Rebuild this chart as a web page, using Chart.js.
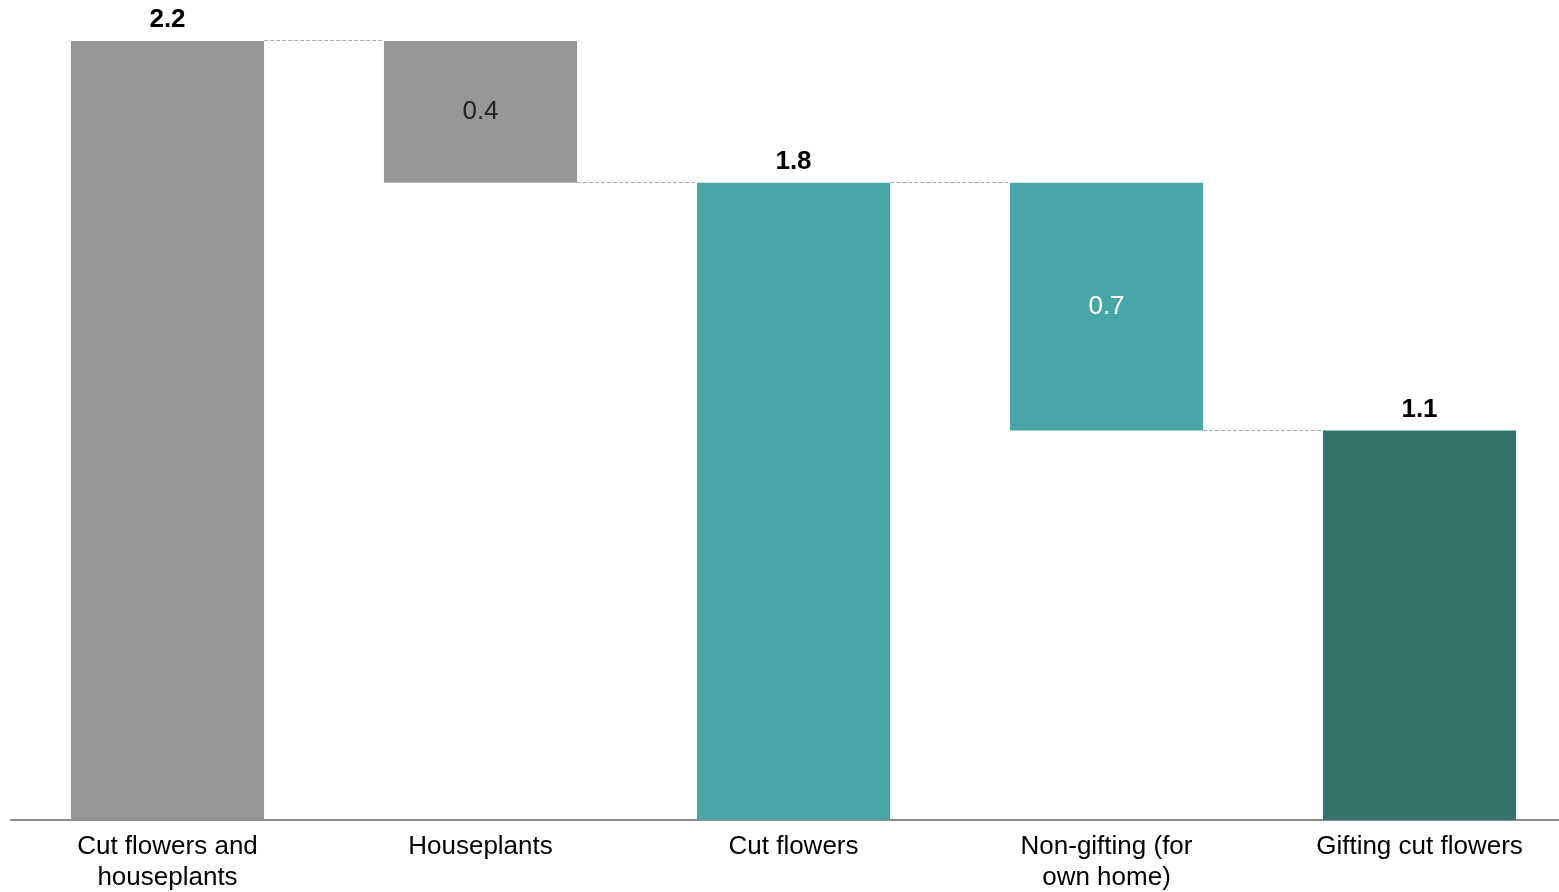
<!DOCTYPE html>
<html>
<head>
<meta charset="utf-8">
<script src="https://cdn.jsdelivr.net/npm/chart.js@4"></script>
<style>
  html, body { margin: 0; padding: 0; background: #fff; overflow: hidden; }
  #wrap { width: 1580px; height: 904px; }
</style>
</head>
<body>
<div id="wrap"><canvas id="cascata"></canvas></div>
<script>
const categorias = [
  ['Cut flowers and', 'houseplants'],
  'Houseplants',
  'Cut flowers',
  ['Non-gifting (for', 'own home)'],
  'Gifting cut flowers'
];
const valores = [2.2, 0.4, 1.8, 0.7, 1.1];
const tipos = ['total', 'queda', 'total', 'queda', 'total'];
const cores = ['#979797', '#979797', '#49a6a6', '#49a6a6', '#35736d'];
const corRotulo = ['#000', '#222', '#000', '#fff', '#000'];

// barras flutuantes: totais partem do zero, quedas penduram do total anterior
let nivel = 0;
const faixas = valores.map((v, i) => {
  if (tipos[i] === 'total') { nivel = v; return [0, v]; }
  const f = [nivel - v, nivel];
  nivel = nivel - v;
  return f;
});

const fonte = '"Liberation Sans", Arial, sans-serif';

const rotulosEConectores = {
  id: 'rotulosEConectores',
  afterDatasetsDraw(chart) {
    const ctx = chart.ctx;
    const meta = chart.getDatasetMeta(0);
    const y = chart.scales.y;
    ctx.save();
    // linhas tracejadas ligando as barras
    ctx.strokeStyle = '#aaaaaa';
    ctx.lineWidth = 1;
    ctx.setLineDash([4, 2]);
    for (let i = 0; i < meta.data.length - 1; i++) {
      const a = meta.data[i], b = meta.data[i + 1];
      const nivelLig = tipos[i] === 'total' ? faixas[i][1] : faixas[i][0];
      const ly = Math.round(y.getPixelForValue(nivelLig)) - 0.5;
      ctx.beginPath();
      ctx.moveTo(a.x + a.width / 2, ly);
      ctx.lineTo(b.x - b.width / 2, ly);
      ctx.stroke();
    }
    ctx.setLineDash([]);
    ctx.textAlign = 'center';
    meta.data.forEach((bar, i) => {
      ctx.fillStyle = corRotulo[i];
      if (tipos[i] === 'total') {
        ctx.font = 'bold 26px ' + fonte;
        ctx.textBaseline = 'bottom';
        ctx.fillText(valores[i].toFixed(1), bar.x, bar.y - 8);
      } else {
        ctx.font = '26px ' + fonte;
        ctx.textBaseline = 'middle';
        const meio = (y.getPixelForValue(faixas[i][0]) + y.getPixelForValue(faixas[i][1])) / 2;
        ctx.fillText(valores[i].toFixed(1), bar.x, meio);
      }
    });
    ctx.restore();
  }
};

const ctx = document.getElementById('cascata').getContext('2d');
new Chart(ctx, {
  type: 'bar',
  data: {
    labels: categorias,
    datasets: [{
      data: faixas,
      backgroundColor: cores,
      borderWidth: 0,
      barPercentage: 1,
      categoryPercentage: 0.617
    }]
  },
  options: {
    responsive: true,
    maintainAspectRatio: false,
    animation: false,
    layout: { padding: { top: 41, left: 11, right: 4, bottom: 0 } },
    scales: {
      x: {
        grid: { display: false, drawTicks: false },
        border: { display: true, color: '#8c8c8c', width: 2 },
        ticks: {
          color: '#000',
          padding: 11,
          maxRotation: 0,
          autoSkip: false,
          font: { size: 26, family: fonte, lineHeight: 1.19 }
        }
      },
      y: {
        display: false,
        min: 0,
        max: 2.2
      }
    },
    plugins: {
      legend: { display: false },
      tooltip: { enabled: false }
    }
  },
  plugins: [rotulosEConectores]
});
</script>
</body>
</html>
